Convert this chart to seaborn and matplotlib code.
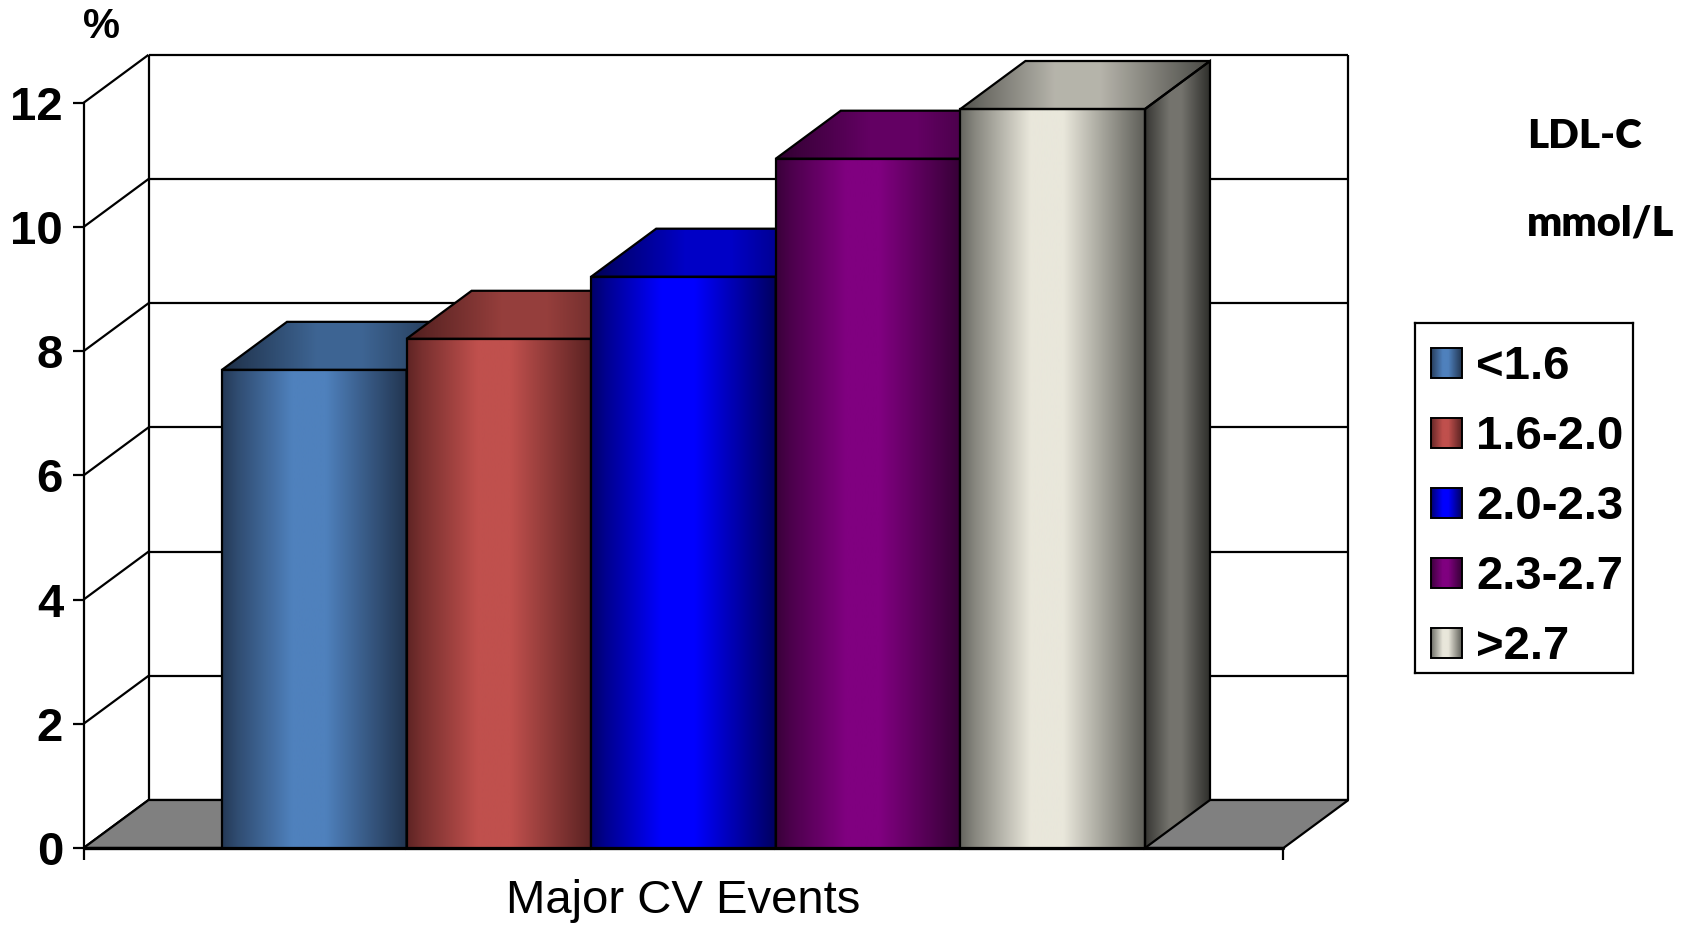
import numpy as np
import matplotlib
matplotlib.use("Agg")
import matplotlib.pyplot as plt
from matplotlib.patches import Polygon
from matplotlib.colors import to_rgb
import pandas as pd
import seaborn as sns

# ---- data -------------------------------------------------------------
categories = ["<1.6", "1.6-2.0", "2.0-2.3", "2.3-2.7", ">2.7"]
event_rates = [7.7, 8.2, 9.2, 11.1, 11.9]
y_ticks = [0, 2, 4, 6, 8, 10, 12]
x_label = "Major CV Events"
y_unit = "%"
legend_title = ["LDL-C", "mmol/L"]
light_colors = ["#4F81BD", "#C0504D", "#0000FF", "#800080", "#E9E7DB"]
dark_colors = ["#223550", "#5A2222", "#000060", "#360036", "#5E5E58"]

# ---- style ------------------------------------------------------------
sns.set_theme(style="white")
plt.rcParams["font.family"] = ["Liberation Sans", "DejaVu Sans"]
plt.rcParams["text.color"] = "black"

W, H, DPI = 1695, 927, 100
fig = plt.figure(figsize=(W / DPI, H / DPI), dpi=DPI)
ax = fig.add_axes([0, 0, 1, 1])

# layout: one bar is 1 x-unit, values are y-units
BAR_PX, UNIT_PX = 184.6, 62.1
X0_PX, Y0_PX = 222.0, 848.0


def px_to_x(px):
    return (px - X0_PX) / BAR_PX - 0.5


def py_to_y(py):
    return (Y0_PX - py) / UNIT_PX


DX, DY = 65 / BAR_PX, 48 / UNIT_PX          # depth of the 3-D box
GAP = 0.75
FL, FR = -0.5 - GAP, len(categories) - 0.5 + GAP
TOP = y_ticks[-1]
LW = 1.6

PROFILE_X = [0.0, 0.08, 0.38, 0.56, 0.8, 1.0]
PROFILE_T = [0.05, 0.3, 1.0, 1.0, 0.45, 0.0]


def gradient(light, dark, scale=1.0, n=256):
    t = np.interp(np.linspace(0, 1, n), PROFILE_X, PROFILE_T)
    lo, hi = np.array(to_rgb(dark)), np.array(to_rgb(light))
    rgb = (lo[None, :] + t[:, None] * (hi - lo)[None, :]) * scale
    return np.clip(rgb, 0, 1)[None, :, :]


# ---- bars (seaborn) ---------------------------------------------------
df = pd.DataFrame({"group": categories, "rate": event_rates})
sns.barplot(data=df, x="group", y="rate", hue="group", palette=light_colors,
            width=1.0, dodge=False, saturation=1, legend=False, ax=ax)
bars = sorted([p for c in ax.containers for p in c], key=lambda p: p.get_x())

# ---- walls, grid and floor --------------------------------------------
wall_kw = dict(color="black", lw=LW, zorder=1, solid_capstyle="butt")
for v in y_ticks:
    ax.plot([FL, FL + DX], [v, v + DY], **wall_kw)
    ax.plot([FL + DX, FR + DX], [v + DY, v + DY], **wall_kw)
    ax.plot([FL - 11 / BAR_PX, FL], [v, v], **wall_kw)
ax.plot([FL + DX, FL + DX], [DY, TOP + DY], **wall_kw)
ax.plot([FR + DX, FR + DX], [DY, TOP + DY], **wall_kw)
ax.plot([FL, FL], [-12 / UNIT_PX, TOP], **wall_kw)
ax.plot([FR, FR], [-12 / UNIT_PX, 0], **wall_kw)

floor = Polygon([(FL, 0), (FR, 0), (FR + DX, DY), (FL + DX, DY)],
                closed=True, facecolor="#808080", edgecolor="black",
                lw=LW, zorder=1.5)
ax.add_patch(floor)
ax.plot([FL, FR], [0, 0], color="black", lw=2.4, zorder=1.6)

# ---- 3-D shading of each bar ------------------------------------------
for i, bar in enumerate(bars):
    z = 3 + i
    x0, x1, v = bar.get_x(), bar.get_x() + bar.get_width(), bar.get_height()
    li, dk = light_colors[i], dark_colors[i]

    top = Polygon([(x0, v), (x1, v), (x1 + DX, v + DY), (x0 + DX, v + DY)],
                  closed=True, facecolor="none", edgecolor="black",
                  lw=LW, zorder=z + 0.3)
    ax.add_patch(top)
    im = ax.imshow(gradient(li, dk, scale=0.78), extent=[x0, x1 + DX, v, v + DY],
                   aspect="auto", interpolation="bilinear", zorder=z + 0.1)
    im.set_clip_path(top)

    side = Polygon([(x1, 0), (x1 + DX, DY), (x1 + DX, v + DY), (x1, v)],
                   closed=True, facecolor="none", edgecolor="black",
                   lw=LW, zorder=z + 0.3)
    ax.add_patch(side)
    im = ax.imshow(gradient(li, dk, scale=0.5), extent=[x1, x1 + DX, 0, v + DY],
                   aspect="auto", interpolation="bilinear", zorder=z + 0.1)
    im.set_clip_path(side)

    bar.set_facecolor("none")
    bar.set_edgecolor("black")
    bar.set_linewidth(LW)
    bar.set_zorder(z + 0.3)
    im = ax.imshow(gradient(li, dk), extent=[x0, x1, 0, v],
                   aspect="auto", interpolation="bilinear", zorder=z + 0.1)
    im.set_clip_path(bar)

# ---- text -------------------------------------------------------------
for v in y_ticks:
    ax.text(px_to_x(63), v - 17 / UNIT_PX, str(v), ha="right", va="baseline",
            fontsize=34, fontweight="bold")
ax.text(px_to_x(101), py_to_y(38), y_unit, ha="center", va="baseline",
        fontsize=30, fontweight="bold")
ax.text((FL + FR) / 2, py_to_y(913), x_label, ha="center", va="baseline",
        fontsize=34)
ax.text(px_to_x(1527), py_to_y(148), legend_title[0], ha="left", va="baseline",
        fontsize=29, fontweight="heavy", family=["Lato", "DejaVu Sans"])
ax.text(px_to_x(1527), py_to_y(235), legend_title[1], ha="left", va="baseline",
        fontsize=30, fontweight="heavy", family=["Lato", "DejaVu Sans"])

ax.set_xlim(px_to_x(0), px_to_x(W))
ax.set_ylim(py_to_y(H), py_to_y(0))
ax.axis("off")

# ---- legend -----------------------------------------------------------
L_LEFT, L_TOP, L_W, L_H = 1415, 323, 218, 350
lax = fig.add_axes([L_LEFT / W, (H - L_TOP - L_H) / H, L_W / W, L_H / H])
lax.set_xticks([])
lax.set_yticks([])
for sp in lax.spines.values():
    sp.set_color("black")
    sp.set_linewidth(1.6)
for i, name in enumerate(categories):
    cy = 40 + 70 * i
    lax.imshow(gradient(light_colors[i], dark_colors[i]),
               extent=[16, 47, cy + 15, cy - 15], aspect="auto",
               interpolation="bilinear", zorder=2)
    lax.add_patch(Polygon([(16, cy - 15), (47, cy - 15), (47, cy + 15), (16, cy + 15)],
                          closed=True, facecolor="none", edgecolor="black",
                          lw=1.4, zorder=3))
    lax.text(61, cy + 16, name, ha="left", va="baseline", fontsize=34,
             fontweight="bold")
lax.set_xlim(0, L_W)
lax.set_ylim(L_H, 0)

fig.savefig("out.png", dpi=DPI)
